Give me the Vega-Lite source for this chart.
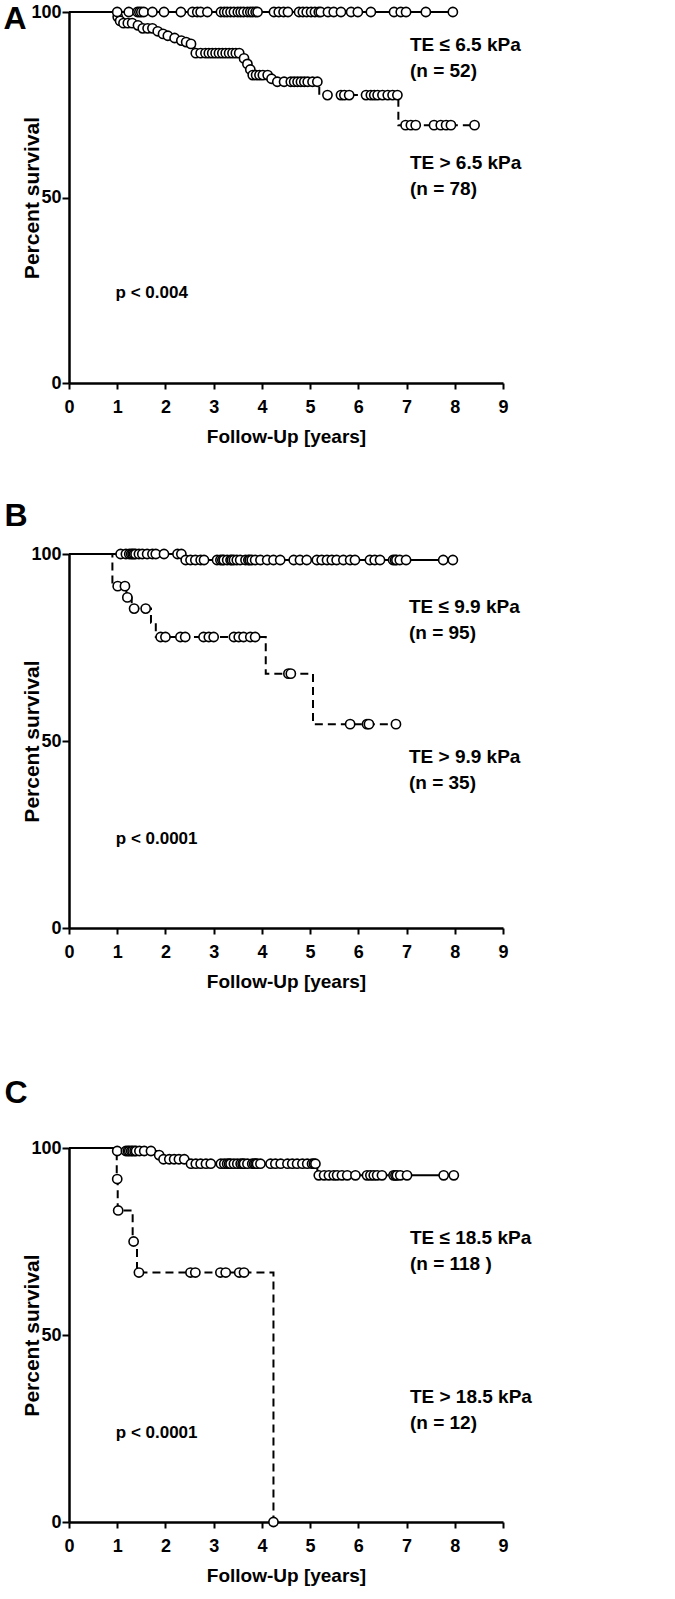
{
 "$schema": "https://vega.github.io/schema/vega-lite/v6.json",
 "background": "white",
 "padding": {"left": 3, "top": 3, "right": 5, "bottom": 5},
 "config": {
  "view": {"stroke": null},
  "font": "Liberation Sans",
  "axis": {"grid": false, "domainColor": "black", "domainWidth": 2.5, "tickColor": "black", "tickWidth": 2, "labelColor": "black", "titleColor": "black", "labelFont": "Liberation Sans", "titleFont": "Liberation Sans", "labelFontWeight": "bold", "titleFontWeight": "bold", "labelFlush": false, "labelOverlap": false},
  "text": {"font": "Liberation Sans", "fontWeight": "bold", "color": "black"}
 },
 "datasets": {
  "A": [
   {"grp":"hi","kind":"step","t":0,"surv":100},{"grp":"hi","kind":"step","t":1.0,"surv":98.7},{"grp":"hi","kind":"step","t":1.04,"surv":97.6},{"grp":"hi","kind":"step","t":1.11,"surv":97.0},{"grp":"hi","kind":"step","t":1.40,"surv":96.4},{"grp":"hi","kind":"step","t":1.50,"surv":95.6},{"grp":"hi","kind":"step","t":1.81,"surv":94.8},{"grp":"hi","kind":"step","t":1.92,"surv":94.1},{"grp":"hi","kind":"step","t":2.02,"surv":93.6},{"grp":"hi","kind":"step","t":2.16,"surv":93.0},{"grp":"hi","kind":"step","t":2.30,"surv":92.3},{"grp":"hi","kind":"step","t":2.40,"surv":91.9},{"grp":"hi","kind":"step","t":2.50,"surv":91.4},{"grp":"hi","kind":"step","t":2.60,"surv":88.9},{"grp":"hi","kind":"step","t":3.60,"surv":87.5},{"grp":"hi","kind":"step","t":3.67,"surv":86.0},{"grp":"hi","kind":"step","t":3.74,"surv":84.5},{"grp":"hi","kind":"step","t":3.78,"surv":83.0},{"grp":"hi","kind":"step","t":4.17,"surv":82.0},{"grp":"hi","kind":"step","t":4.27,"surv":81.2},{"grp":"hi","kind":"step","t":5.19,"surv":77.6},{"grp":"hi","kind":"step","t":6.83,"surv":69.5},{"grp":"hi","kind":"step","t":8.41,"surv":69.5},
   {"grp":"hi","kind":"cens","t":1.01,"surv":98.7},{"grp":"hi","kind":"cens","t":1.06,"surv":97.6},{"grp":"hi","kind":"cens","t":1.13,"surv":97.0},{"grp":"hi","kind":"cens","t":1.22,"surv":97.0},{"grp":"hi","kind":"cens","t":1.31,"surv":97.0},{"grp":"hi","kind":"cens","t":1.43,"surv":96.4},{"grp":"hi","kind":"cens","t":1.53,"surv":95.6},{"grp":"hi","kind":"cens","t":1.63,"surv":95.6},{"grp":"hi","kind":"cens","t":1.73,"surv":95.6},{"grp":"hi","kind":"cens","t":1.84,"surv":94.8},{"grp":"hi","kind":"cens","t":1.95,"surv":94.1},{"grp":"hi","kind":"cens","t":2.05,"surv":93.6},{"grp":"hi","kind":"cens","t":2.19,"surv":93.0},{"grp":"hi","kind":"cens","t":2.33,"surv":92.3},{"grp":"hi","kind":"cens","t":2.43,"surv":91.9},{"grp":"hi","kind":"cens","t":2.53,"surv":91.4},
   {"grp":"hi","kind":"cens","t":2.63,"surv":88.9},{"grp":"hi","kind":"cens","t":2.73,"surv":88.9},{"grp":"hi","kind":"cens","t":2.83,"surv":88.9},{"grp":"hi","kind":"cens","t":2.90,"surv":88.9},{"grp":"hi","kind":"cens","t":2.97,"surv":88.9},{"grp":"hi","kind":"cens","t":3.04,"surv":88.9},{"grp":"hi","kind":"cens","t":3.11,"surv":88.9},{"grp":"hi","kind":"cens","t":3.18,"surv":88.9},{"grp":"hi","kind":"cens","t":3.25,"surv":88.9},{"grp":"hi","kind":"cens","t":3.32,"surv":88.9},{"grp":"hi","kind":"cens","t":3.39,"surv":88.9},{"grp":"hi","kind":"cens","t":3.46,"surv":88.9},{"grp":"hi","kind":"cens","t":3.53,"surv":88.9},
   {"grp":"hi","kind":"cens","t":3.63,"surv":87.5},{"grp":"hi","kind":"cens","t":3.70,"surv":86.0},{"grp":"hi","kind":"cens","t":3.76,"surv":84.5},
   {"grp":"hi","kind":"cens","t":3.81,"surv":83.0},{"grp":"hi","kind":"cens","t":3.88,"surv":83.0},{"grp":"hi","kind":"cens","t":3.95,"surv":83.0},{"grp":"hi","kind":"cens","t":4.02,"surv":83.0},{"grp":"hi","kind":"cens","t":4.12,"surv":83.0},{"grp":"hi","kind":"cens","t":4.20,"surv":82.0},
   {"grp":"hi","kind":"cens","t":4.32,"surv":81.2},{"grp":"hi","kind":"cens","t":4.46,"surv":81.2},{"grp":"hi","kind":"cens","t":4.60,"surv":81.2},{"grp":"hi","kind":"cens","t":4.67,"surv":81.2},{"grp":"hi","kind":"cens","t":4.74,"surv":81.2},{"grp":"hi","kind":"cens","t":4.81,"surv":81.2},{"grp":"hi","kind":"cens","t":4.88,"surv":81.2},{"grp":"hi","kind":"cens","t":4.95,"surv":81.2},{"grp":"hi","kind":"cens","t":5.05,"surv":81.2},{"grp":"hi","kind":"cens","t":5.15,"surv":81.2},
   {"grp":"hi","kind":"cens","t":5.36,"surv":77.6},{"grp":"hi","kind":"cens","t":5.64,"surv":77.6},{"grp":"hi","kind":"cens","t":5.71,"surv":77.6},{"grp":"hi","kind":"cens","t":5.81,"surv":77.6},{"grp":"hi","kind":"cens","t":6.16,"surv":77.6},{"grp":"hi","kind":"cens","t":6.26,"surv":77.6},{"grp":"hi","kind":"cens","t":6.33,"surv":77.6},{"grp":"hi","kind":"cens","t":6.40,"surv":77.6},{"grp":"hi","kind":"cens","t":6.50,"surv":77.6},{"grp":"hi","kind":"cens","t":6.61,"surv":77.6},{"grp":"hi","kind":"cens","t":6.71,"surv":77.6},{"grp":"hi","kind":"cens","t":6.81,"surv":77.6},
   {"grp":"hi","kind":"cens","t":6.98,"surv":69.5},{"grp":"hi","kind":"cens","t":7.09,"surv":69.5},{"grp":"hi","kind":"cens","t":7.19,"surv":69.5},{"grp":"hi","kind":"cens","t":7.57,"surv":69.5},{"grp":"hi","kind":"cens","t":7.71,"surv":69.5},{"grp":"hi","kind":"cens","t":7.82,"surv":69.5},{"grp":"hi","kind":"cens","t":7.92,"surv":69.5},{"grp":"hi","kind":"cens","t":8.41,"surv":69.5},
   {"grp":"lo","kind":"step","t":0,"surv":100},{"grp":"lo","kind":"step","t":7.96,"surv":100},
   {"grp":"lo","kind":"cens","t":1.0,"surv":100},{"grp":"lo","kind":"cens","t":1.24,"surv":100},{"grp":"lo","kind":"cens","t":1.42,"surv":100},{"grp":"lo","kind":"cens","t":1.46,"surv":100},{"grp":"lo","kind":"cens","t":1.50,"surv":100},{"grp":"lo","kind":"cens","t":1.55,"surv":100},{"grp":"lo","kind":"cens","t":1.73,"surv":100},{"grp":"lo","kind":"cens","t":1.97,"surv":100},{"grp":"lo","kind":"cens","t":2.32,"surv":100},{"grp":"lo","kind":"cens","t":2.56,"surv":100},{"grp":"lo","kind":"cens","t":2.66,"surv":100},{"grp":"lo","kind":"cens","t":2.73,"surv":100},{"grp":"lo","kind":"cens","t":2.87,"surv":100},{"grp":"lo","kind":"cens","t":3.15,"surv":100},{"grp":"lo","kind":"cens","t":3.22,"surv":100},{"grp":"lo","kind":"cens","t":3.28,"surv":100},{"grp":"lo","kind":"cens","t":3.35,"surv":100},{"grp":"lo","kind":"cens","t":3.42,"surv":100},{"grp":"lo","kind":"cens","t":3.50,"surv":100},{"grp":"lo","kind":"cens","t":3.56,"surv":100},{"grp":"lo","kind":"cens","t":3.62,"surv":100},{"grp":"lo","kind":"cens","t":3.70,"surv":100},{"grp":"lo","kind":"cens","t":3.76,"surv":100},{"grp":"lo","kind":"cens","t":3.81,"surv":100},{"grp":"lo","kind":"cens","t":3.87,"surv":100},{"grp":"lo","kind":"cens","t":3.91,"surv":100},{"grp":"lo","kind":"cens","t":4.25,"surv":100},{"grp":"lo","kind":"cens","t":4.35,"surv":100},{"grp":"lo","kind":"cens","t":4.45,"surv":100},{"grp":"lo","kind":"cens","t":4.54,"surv":100},{"grp":"lo","kind":"cens","t":4.77,"surv":100},{"grp":"lo","kind":"cens","t":4.85,"surv":100},{"grp":"lo","kind":"cens","t":4.93,"surv":100},{"grp":"lo","kind":"cens","t":5.02,"surv":100},{"grp":"lo","kind":"cens","t":5.10,"surv":100},{"grp":"lo","kind":"cens","t":5.18,"surv":100},{"grp":"lo","kind":"cens","t":5.22,"surv":100},{"grp":"lo","kind":"cens","t":5.37,"surv":100},{"grp":"lo","kind":"cens","t":5.49,"surv":100},{"grp":"lo","kind":"cens","t":5.64,"surv":100},{"grp":"lo","kind":"cens","t":5.85,"surv":100},{"grp":"lo","kind":"cens","t":5.99,"surv":100},{"grp":"lo","kind":"cens","t":6.26,"surv":100},{"grp":"lo","kind":"cens","t":6.74,"surv":100},{"grp":"lo","kind":"cens","t":6.88,"surv":100},{"grp":"lo","kind":"cens","t":6.99,"surv":100},{"grp":"lo","kind":"cens","t":7.40,"surv":100},{"grp":"lo","kind":"cens","t":7.96,"surv":100}
  ],
  "B": [
   {"grp":"hi","kind":"step","t":0,"surv":100},{"grp":"hi","kind":"step","t":0.90,"surv":91.4},{"grp":"hi","kind":"step","t":1.19,"surv":88.4},{"grp":"hi","kind":"step","t":1.30,"surv":85.4},{"grp":"hi","kind":"step","t":1.70,"surv":81.6},{"grp":"hi","kind":"step","t":1.80,"surv":77.8},{"grp":"hi","kind":"step","t":4.08,"surv":68.0},{"grp":"hi","kind":"step","t":5.06,"surv":54.5},{"grp":"hi","kind":"step","t":6.78,"surv":54.5},
   {"grp":"hi","kind":"cens","t":1.01,"surv":91.4},{"grp":"hi","kind":"cens","t":1.16,"surv":91.4},{"grp":"hi","kind":"cens","t":1.21,"surv":88.4},{"grp":"hi","kind":"cens","t":1.35,"surv":85.4},{"grp":"hi","kind":"cens","t":1.59,"surv":85.4},{"grp":"hi","kind":"cens","t":1.90,"surv":77.8},{"grp":"hi","kind":"cens","t":2.00,"surv":77.8},{"grp":"hi","kind":"cens","t":2.31,"surv":77.8},{"grp":"hi","kind":"cens","t":2.41,"surv":77.8},{"grp":"hi","kind":"cens","t":2.79,"surv":77.8},{"grp":"hi","kind":"cens","t":2.90,"surv":77.8},{"grp":"hi","kind":"cens","t":3.00,"surv":77.8},{"grp":"hi","kind":"cens","t":3.42,"surv":77.8},{"grp":"hi","kind":"cens","t":3.52,"surv":77.8},{"grp":"hi","kind":"cens","t":3.62,"surv":77.8},{"grp":"hi","kind":"cens","t":3.76,"surv":77.8},{"grp":"hi","kind":"cens","t":3.86,"surv":77.8},{"grp":"hi","kind":"cens","t":4.55,"surv":68.0},{"grp":"hi","kind":"cens","t":4.60,"surv":68.0},{"grp":"hi","kind":"cens","t":5.83,"surv":54.5},{"grp":"hi","kind":"cens","t":6.18,"surv":54.5},{"grp":"hi","kind":"cens","t":6.22,"surv":54.5},{"grp":"hi","kind":"cens","t":6.78,"surv":54.5},
   {"grp":"lo","kind":"step","t":0,"surv":100},{"grp":"lo","kind":"step","t":2.38,"surv":98.4},{"grp":"lo","kind":"step","t":7.96,"surv":98.4},
   {"grp":"lo","kind":"cens","t":1.07,"surv":100},{"grp":"lo","kind":"cens","t":1.18,"surv":100},{"grp":"lo","kind":"cens","t":1.25,"surv":100},{"grp":"lo","kind":"cens","t":1.29,"surv":100},{"grp":"lo","kind":"cens","t":1.32,"surv":100},{"grp":"lo","kind":"cens","t":1.35,"surv":100},{"grp":"lo","kind":"cens","t":1.38,"surv":100},{"grp":"lo","kind":"cens","t":1.45,"surv":100},{"grp":"lo","kind":"cens","t":1.52,"surv":100},{"grp":"lo","kind":"cens","t":1.62,"surv":100},{"grp":"lo","kind":"cens","t":1.73,"surv":100},{"grp":"lo","kind":"cens","t":1.80,"surv":100},{"grp":"lo","kind":"cens","t":1.97,"surv":100},{"grp":"lo","kind":"cens","t":2.25,"surv":100},{"grp":"lo","kind":"cens","t":2.33,"surv":100},
   {"grp":"lo","kind":"cens","t":2.42,"surv":98.4},{"grp":"lo","kind":"cens","t":2.52,"surv":98.4},{"grp":"lo","kind":"cens","t":2.62,"surv":98.4},{"grp":"lo","kind":"cens","t":2.73,"surv":98.4},{"grp":"lo","kind":"cens","t":2.80,"surv":98.4},{"grp":"lo","kind":"cens","t":3.07,"surv":98.4},{"grp":"lo","kind":"cens","t":3.14,"surv":98.4},{"grp":"lo","kind":"cens","t":3.18,"surv":98.4},{"grp":"lo","kind":"cens","t":3.21,"surv":98.4},{"grp":"lo","kind":"cens","t":3.28,"surv":98.4},{"grp":"lo","kind":"cens","t":3.35,"surv":98.4},{"grp":"lo","kind":"cens","t":3.38,"surv":98.4},{"grp":"lo","kind":"cens","t":3.42,"surv":98.4},{"grp":"lo","kind":"cens","t":3.48,"surv":98.4},{"grp":"lo","kind":"cens","t":3.55,"surv":98.4},{"grp":"lo","kind":"cens","t":3.66,"surv":98.4},{"grp":"lo","kind":"cens","t":3.72,"surv":98.4},{"grp":"lo","kind":"cens","t":3.75,"surv":98.4},{"grp":"lo","kind":"cens","t":3.79,"surv":98.4},{"grp":"lo","kind":"cens","t":3.86,"surv":98.4},{"grp":"lo","kind":"cens","t":3.97,"surv":98.4},{"grp":"lo","kind":"cens","t":4.11,"surv":98.4},{"grp":"lo","kind":"cens","t":4.24,"surv":98.4},{"grp":"lo","kind":"cens","t":4.38,"surv":98.4},{"grp":"lo","kind":"cens","t":4.66,"surv":98.4},{"grp":"lo","kind":"cens","t":4.79,"surv":98.4},{"grp":"lo","kind":"cens","t":4.93,"surv":98.4},{"grp":"lo","kind":"cens","t":5.14,"surv":98.4},{"grp":"lo","kind":"cens","t":5.24,"surv":98.4},{"grp":"lo","kind":"cens","t":5.35,"surv":98.4},{"grp":"lo","kind":"cens","t":5.45,"surv":98.4},{"grp":"lo","kind":"cens","t":5.55,"surv":98.4},{"grp":"lo","kind":"cens","t":5.69,"surv":98.4},{"grp":"lo","kind":"cens","t":5.83,"surv":98.4},{"grp":"lo","kind":"cens","t":5.93,"surv":98.4},{"grp":"lo","kind":"cens","t":6.24,"surv":98.4},{"grp":"lo","kind":"cens","t":6.34,"surv":98.4},{"grp":"lo","kind":"cens","t":6.45,"surv":98.4},{"grp":"lo","kind":"cens","t":6.72,"surv":98.4},{"grp":"lo","kind":"cens","t":6.76,"surv":98.4},{"grp":"lo","kind":"cens","t":6.79,"surv":98.4},{"grp":"lo","kind":"cens","t":6.86,"surv":98.4},{"grp":"lo","kind":"cens","t":6.99,"surv":98.4},{"grp":"lo","kind":"cens","t":7.76,"surv":98.4},{"grp":"lo","kind":"cens","t":7.96,"surv":98.4}
  ],
  "C": [
   {"grp":"hi","kind":"step","t":0,"surv":100},{"grp":"hi","kind":"step","t":0.99,"surv":91.7},{"grp":"hi","kind":"step","t":1.01,"surv":83.3},{"grp":"hi","kind":"step","t":1.32,"surv":75.0},{"grp":"hi","kind":"step","t":1.41,"surv":66.7},{"grp":"hi","kind":"step","t":4.24,"surv":0},
   {"grp":"hi","kind":"cens","t":1.0,"surv":91.7},{"grp":"hi","kind":"cens","t":1.02,"surv":83.3},{"grp":"hi","kind":"cens","t":1.34,"surv":75.0},{"grp":"hi","kind":"cens","t":1.45,"surv":66.7},{"grp":"hi","kind":"cens","t":2.52,"surv":66.7},{"grp":"hi","kind":"cens","t":2.62,"surv":66.7},{"grp":"hi","kind":"cens","t":3.14,"surv":66.7},{"grp":"hi","kind":"cens","t":3.25,"surv":66.7},{"grp":"hi","kind":"cens","t":3.53,"surv":66.7},{"grp":"hi","kind":"cens","t":3.63,"surv":66.7},{"grp":"hi","kind":"cens","t":4.24,"surv":0},
   {"grp":"lo","kind":"step","t":0,"surv":100},{"grp":"lo","kind":"step","t":1.0,"surv":99.2},{"grp":"lo","kind":"step","t":1.86,"surv":98.1},{"grp":"lo","kind":"step","t":1.93,"surv":97.0},{"grp":"lo","kind":"step","t":2.48,"surv":95.8},{"grp":"lo","kind":"step","t":5.15,"surv":92.7},{"grp":"lo","kind":"step","t":7.98,"surv":92.7},
   {"grp":"lo","kind":"cens","t":1.0,"surv":99.2},{"grp":"lo","kind":"cens","t":1.18,"surv":99.2},{"grp":"lo","kind":"cens","t":1.22,"surv":99.2},{"grp":"lo","kind":"cens","t":1.25,"surv":99.2},{"grp":"lo","kind":"cens","t":1.29,"surv":99.2},{"grp":"lo","kind":"cens","t":1.32,"surv":99.2},{"grp":"lo","kind":"cens","t":1.36,"surv":99.2},{"grp":"lo","kind":"cens","t":1.39,"surv":99.2},{"grp":"lo","kind":"cens","t":1.46,"surv":99.2},{"grp":"lo","kind":"cens","t":1.56,"surv":99.2},{"grp":"lo","kind":"cens","t":1.70,"surv":99.2},{"grp":"lo","kind":"cens","t":1.87,"surv":98.1},
   {"grp":"lo","kind":"cens","t":1.96,"surv":97.0},{"grp":"lo","kind":"cens","t":2.08,"surv":97.0},{"grp":"lo","kind":"cens","t":2.18,"surv":97.0},{"grp":"lo","kind":"cens","t":2.28,"surv":97.0},{"grp":"lo","kind":"cens","t":2.39,"surv":97.0},
   {"grp":"lo","kind":"cens","t":2.53,"surv":95.8},{"grp":"lo","kind":"cens","t":2.63,"surv":95.8},{"grp":"lo","kind":"cens","t":2.73,"surv":95.8},{"grp":"lo","kind":"cens","t":2.84,"surv":95.8},{"grp":"lo","kind":"cens","t":2.94,"surv":95.8},{"grp":"lo","kind":"cens","t":3.15,"surv":95.8},{"grp":"lo","kind":"cens","t":3.22,"surv":95.8},{"grp":"lo","kind":"cens","t":3.28,"surv":95.8},{"grp":"lo","kind":"cens","t":3.32,"surv":95.8},{"grp":"lo","kind":"cens","t":3.35,"surv":95.8},{"grp":"lo","kind":"cens","t":3.42,"surv":95.8},{"grp":"lo","kind":"cens","t":3.49,"surv":95.8},{"grp":"lo","kind":"cens","t":3.56,"surv":95.8},{"grp":"lo","kind":"cens","t":3.60,"surv":95.8},{"grp":"lo","kind":"cens","t":3.63,"surv":95.8},{"grp":"lo","kind":"cens","t":3.70,"surv":95.8},{"grp":"lo","kind":"cens","t":3.80,"surv":95.8},{"grp":"lo","kind":"cens","t":3.84,"surv":95.8},{"grp":"lo","kind":"cens","t":3.87,"surv":95.8},{"grp":"lo","kind":"cens","t":3.90,"surv":95.8},{"grp":"lo","kind":"cens","t":3.97,"surv":95.8},{"grp":"lo","kind":"cens","t":4.18,"surv":95.8},{"grp":"lo","kind":"cens","t":4.28,"surv":95.8},{"grp":"lo","kind":"cens","t":4.39,"surv":95.8},{"grp":"lo","kind":"cens","t":4.53,"surv":95.8},{"grp":"lo","kind":"cens","t":4.63,"surv":95.8},{"grp":"lo","kind":"cens","t":4.73,"surv":95.8},{"grp":"lo","kind":"cens","t":4.84,"surv":95.8},{"grp":"lo","kind":"cens","t":4.94,"surv":95.8},{"grp":"lo","kind":"cens","t":5.04,"surv":95.8},{"grp":"lo","kind":"cens","t":5.08,"surv":95.8},{"grp":"lo","kind":"cens","t":5.11,"surv":95.8},
   {"grp":"lo","kind":"cens","t":5.18,"surv":92.7},{"grp":"lo","kind":"cens","t":5.29,"surv":92.7},{"grp":"lo","kind":"cens","t":5.39,"surv":92.7},{"grp":"lo","kind":"cens","t":5.49,"surv":92.7},{"grp":"lo","kind":"cens","t":5.56,"surv":92.7},{"grp":"lo","kind":"cens","t":5.66,"surv":92.7},{"grp":"lo","kind":"cens","t":5.77,"surv":92.7},{"grp":"lo","kind":"cens","t":5.94,"surv":92.7},{"grp":"lo","kind":"cens","t":6.18,"surv":92.7},{"grp":"lo","kind":"cens","t":6.25,"surv":92.7},{"grp":"lo","kind":"cens","t":6.32,"surv":92.7},{"grp":"lo","kind":"cens","t":6.39,"surv":92.7},{"grp":"lo","kind":"cens","t":6.49,"surv":92.7},{"grp":"lo","kind":"cens","t":6.73,"surv":92.7},{"grp":"lo","kind":"cens","t":6.77,"surv":92.7},{"grp":"lo","kind":"cens","t":6.80,"surv":92.7},{"grp":"lo","kind":"cens","t":6.87,"surv":92.7},{"grp":"lo","kind":"cens","t":7.01,"surv":92.7},{"grp":"lo","kind":"cens","t":7.77,"surv":92.7},{"grp":"lo","kind":"cens","t":7.98,"surv":92.7}
  ]
 },
 "spacing": 86,
 "vconcat": [
  {
   "spacing": 53,
   "vconcat": [
    {
     "width": 434, "height": 371,
     "data": {"name": "A"},
     "encoding": {
      "x": {"field": "t", "type": "quantitative", "scale": {"domain": [0, 9], "nice": false}, "axis": {"values": [0,1,2,3,4,5,6,7,8,9], "title": "Follow-Up [years]", "labelFontSize": 18, "titleFontSize": 19, "tickSize": 6, "labelPadding": 9, "titlePadding": 11}},
      "y": {"field": "surv", "type": "quantitative", "scale": {"domain": [0, 100], "nice": false}, "axis": {"values": [0, 50, 100], "title": "Percent survival", "labelFontSize": 18, "titleFontSize": 21, "tickSize": 7, "labelPadding": 1, "titleX": -31, "titleBaseline": "alphabetic"}}
     },
     "layer": [
      {"transform": [{"filter": "datum.grp === 'hi' && datum.kind === 'step'"}], "mark": {"type": "line", "interpolate": "step-after", "color": "black", "strokeWidth": 2, "strokeDash": [8, 5]}},
      {"transform": [{"filter": "datum.grp === 'lo' && datum.kind === 'step'"}], "mark": {"type": "line", "interpolate": "step-after", "color": "black", "strokeWidth": 2}},
      {"transform": [{"filter": "datum.kind === 'cens'"}], "mark": {"type": "point", "shape": "circle", "filled": true, "fill": "white", "stroke": "black", "strokeWidth": 1.6, "size": 85, "opacity": 1}},
      {"transform": [{"filter": "datum.grp === 'lo' && datum.kind === 'step' && datum.t === 0"}], "mark": {"type": "text", "text": ["TE ≤ 6.5 kPa", "(n = 52)"], "fontSize": 19, "lineHeight": 26, "align": "left", "baseline": "alphabetic"}, "encoding": {"x": {"datum": 7.07}, "y": {"datum": 89.6}}},
      {"transform": [{"filter": "datum.grp === 'lo' && datum.kind === 'step' && datum.t === 0"}], "mark": {"type": "text", "text": ["TE > 6.5 kPa", "(n = 78)"], "fontSize": 19, "lineHeight": 26, "align": "left", "baseline": "alphabetic"}, "encoding": {"x": {"datum": 7.07}, "y": {"datum": 57.8}}},
      {"transform": [{"filter": "datum.grp === 'lo' && datum.kind === 'step' && datum.t === 0"}], "mark": {"type": "text", "text": "p < 0.004", "fontSize": 17, "align": "left", "baseline": "alphabetic"}, "encoding": {"x": {"datum": 0.966}, "y": {"datum": 22.9}}},
      {"transform": [{"filter": "datum.grp === 'lo' && datum.kind === 'step' && datum.t === 0"}], "mark": {"type": "text", "text": "A", "fontSize": 32, "align": "left", "baseline": "alphabetic"}, "encoding": {"x": {"datum": -1.36}, "y": {"datum": 95.3}}}
     ]
    },
    {
     "width": 434, "height": 374,
     "data": {"name": "B"},
     "encoding": {
      "x": {"field": "t", "type": "quantitative", "scale": {"domain": [0, 9], "nice": false}, "axis": {"values": [0,1,2,3,4,5,6,7,8,9], "title": "Follow-Up [years]", "labelFontSize": 18, "titleFontSize": 19, "tickSize": 6, "labelPadding": 9, "titlePadding": 11}},
      "y": {"field": "surv", "type": "quantitative", "scale": {"domain": [0, 100], "nice": false}, "axis": {"values": [0, 50, 100], "title": "Percent survival", "labelFontSize": 18, "titleFontSize": 21, "tickSize": 7, "labelPadding": 1, "titleX": -31, "titleBaseline": "alphabetic"}}
     },
     "layer": [
      {"transform": [{"filter": "datum.grp === 'hi' && datum.kind === 'step'"}], "mark": {"type": "line", "interpolate": "step-after", "color": "black", "strokeWidth": 2, "strokeDash": [8, 5]}},
      {"transform": [{"filter": "datum.grp === 'lo' && datum.kind === 'step'"}], "mark": {"type": "line", "interpolate": "step-after", "color": "black", "strokeWidth": 2}},
      {"transform": [{"filter": "datum.kind === 'cens'"}], "mark": {"type": "point", "shape": "circle", "filled": true, "fill": "white", "stroke": "black", "strokeWidth": 1.6, "size": 85, "opacity": 1}},
      {"transform": [{"filter": "datum.grp === 'lo' && datum.kind === 'step' && datum.t === 0"}], "mark": {"type": "text", "text": ["TE ≤ 9.9 kPa", "(n = 95)"], "fontSize": 19, "lineHeight": 26, "align": "left", "baseline": "alphabetic"}, "encoding": {"x": {"datum": 7.05}, "y": {"datum": 84.2}}},
      {"transform": [{"filter": "datum.grp === 'lo' && datum.kind === 'step' && datum.t === 0"}], "mark": {"type": "text", "text": ["TE > 9.9 kPa", "(n = 35)"], "fontSize": 19, "lineHeight": 26, "align": "left", "baseline": "alphabetic"}, "encoding": {"x": {"datum": 7.05}, "y": {"datum": 44.1}}},
      {"transform": [{"filter": "datum.grp === 'lo' && datum.kind === 'step' && datum.t === 0"}], "mark": {"type": "text", "text": "p < 0.0001", "fontSize": 17, "align": "left", "baseline": "alphabetic"}, "encoding": {"x": {"datum": 0.97}, "y": {"datum": 22.5}}},
      {"transform": [{"filter": "datum.grp === 'lo' && datum.kind === 'step' && datum.t === 0"}], "mark": {"type": "text", "text": "B", "fontSize": 32, "align": "left", "baseline": "alphabetic"}, "encoding": {"x": {"datum": -1.34}, "y": {"datum": 107.5}}}
     ]
    }
   ]
  },
  {
   "width": 434, "height": 374,
   "data": {"name": "C"},
   "encoding": {
    "x": {"field": "t", "type": "quantitative", "scale": {"domain": [0, 9], "nice": false}, "axis": {"values": [0,1,2,3,4,5,6,7,8,9], "title": "Follow-Up [years]", "labelFontSize": 18, "titleFontSize": 19, "tickSize": 6, "labelPadding": 9, "titlePadding": 11}},
    "y": {"field": "surv", "type": "quantitative", "scale": {"domain": [0, 100], "nice": false}, "axis": {"values": [0, 50, 100], "title": "Percent survival", "labelFontSize": 18, "titleFontSize": 21, "tickSize": 7, "labelPadding": 1, "titleX": -31, "titleBaseline": "alphabetic"}}
   },
   "layer": [
    {"transform": [{"filter": "datum.grp === 'hi' && datum.kind === 'step'"}], "mark": {"type": "line", "interpolate": "step-after", "color": "black", "strokeWidth": 2, "strokeDash": [8, 5]}},
    {"transform": [{"filter": "datum.grp === 'lo' && datum.kind === 'step'"}], "mark": {"type": "line", "interpolate": "step-after", "color": "black", "strokeWidth": 2}},
    {"transform": [{"filter": "datum.kind === 'cens'"}], "mark": {"type": "point", "shape": "circle", "filled": true, "fill": "white", "stroke": "black", "strokeWidth": 1.6, "size": 85, "opacity": 1}},
    {"transform": [{"filter": "datum.grp === 'lo' && datum.kind === 'step' && datum.t === 0"}], "mark": {"type": "text", "text": ["TE ≤ 18.5 kPa", "(n = 118 )"], "fontSize": 19, "lineHeight": 26, "align": "left", "baseline": "alphabetic"}, "encoding": {"x": {"datum": 7.07}, "y": {"datum": 74.3}}},
    {"transform": [{"filter": "datum.grp === 'lo' && datum.kind === 'step' && datum.t === 0"}], "mark": {"type": "text", "text": ["TE > 18.5 kPa", "(n = 12)"], "fontSize": 19, "lineHeight": 26, "align": "left", "baseline": "alphabetic"}, "encoding": {"x": {"datum": 7.07}, "y": {"datum": 31.8}}},
    {"transform": [{"filter": "datum.grp === 'lo' && datum.kind === 'step' && datum.t === 0"}], "mark": {"type": "text", "text": "p < 0.0001", "fontSize": 17, "align": "left", "baseline": "alphabetic"}, "encoding": {"x": {"datum": 0.97}, "y": {"datum": 22.5}}},
    {"transform": [{"filter": "datum.grp === 'lo' && datum.kind === 'step' && datum.t === 0"}], "mark": {"type": "text", "text": "C", "fontSize": 32, "align": "left", "baseline": "alphabetic"}, "encoding": {"x": {"datum": -1.34}, "y": {"datum": 112.0}}}
   ]
  }
 ]
}
